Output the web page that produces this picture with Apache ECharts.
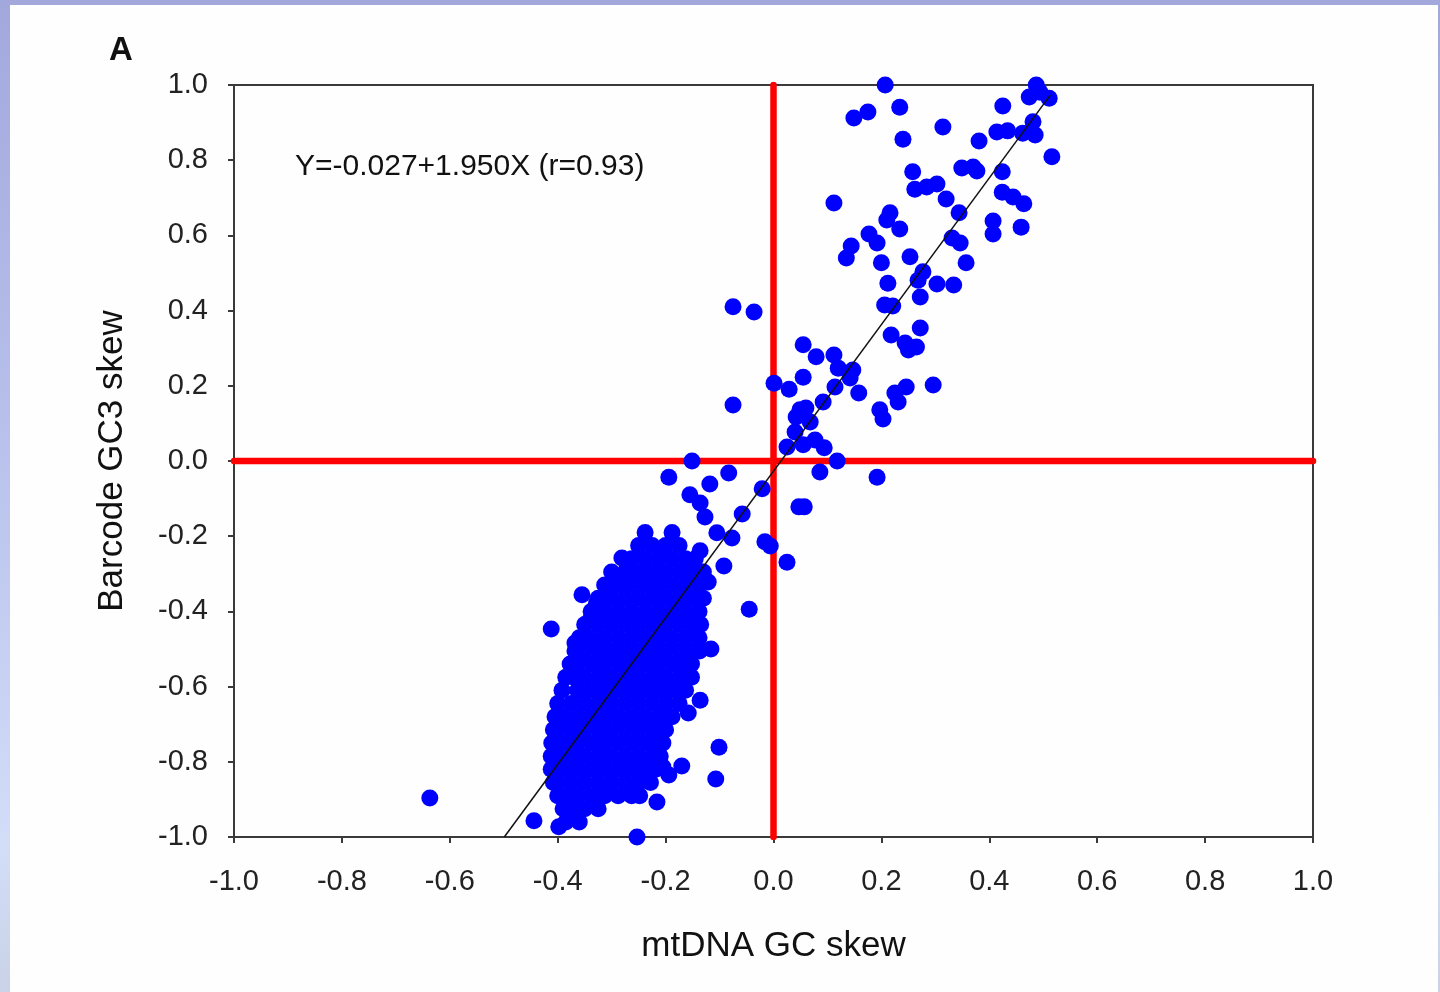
<!DOCTYPE html>
<html>
<head>
<meta charset="utf-8">
<script src="https://cdn.jsdelivr.net/npm/echarts@6/dist/echarts.min.js"></script>
<style>
  html, body { margin: 0; padding: 0; }
  body {
    width: 1440px; height: 992px; overflow: hidden; position: relative;
    background: linear-gradient(180deg, #a2a8dc 0%, #b8c2ec 45%, #d2ddf8 85%, #c9d2e6 100%);
  }
  #paper { position: absolute; left: 10px; top: 5px; width: 1428px; height: 987px; background: #fefefe; }
  #chart { position: absolute; left: 0; top: 0; width: 1440px; height: 992px; }
</style>
</head>
<body>
<div id="paper"></div>
<div id="chart"></div>
<script>
// scattered points outside the dense cluster [mtDNA GC skew, barcode GC3 skew]
var outerPoints = [
  [0.207, 1.0], [0.487, 1.0], [0.494, 0.981], [0.149, 0.912], [0.175, 0.928], [0.234, 0.941],
  [0.240, 0.856], [0.314, 0.888], [0.425, 0.944], [0.474, 0.968], [0.511, 0.965], [0.481, 0.902],
  [0.485, 0.867], [0.462, 0.872], [0.434, 0.878], [0.414, 0.875], [0.381, 0.851], [0.516, 0.809],
  [0.349, 0.779], [0.370, 0.782], [0.377, 0.771], [0.424, 0.769], [0.258, 0.769], [0.262, 0.723],
  [0.284, 0.729], [0.303, 0.737], [0.320, 0.697], [0.424, 0.715], [0.444, 0.702], [0.464, 0.684],
  [0.112, 0.686], [0.216, 0.660], [0.210, 0.641], [0.234, 0.617], [0.344, 0.660], [0.407, 0.638],
  [0.407, 0.604], [0.459, 0.622], [0.177, 0.604], [0.192, 0.580], [0.144, 0.572], [0.135, 0.540],
  [0.200, 0.527], [0.253, 0.543], [0.331, 0.593], [0.346, 0.580], [0.357, 0.527], [0.277, 0.503],
  [0.212, 0.473], [0.268, 0.481], [0.303, 0.471], [0.334, 0.468], [0.272, 0.436], [0.206, 0.415],
  [0.221, 0.412], [0.218, 0.335], [0.272, 0.354], [0.244, 0.314], [0.250, 0.295], [0.265, 0.303],
  [0.296, 0.202], [0.225, 0.181], [0.246, 0.197], [0.231, 0.157], [0.197, 0.136], [0.203, 0.112],
  [0.092, 0.157], [0.158, 0.181], [0.147, 0.242], [0.142, 0.221], [0.114, 0.197], [0.120, 0.247],
  [0.112, 0.282], [0.055, 0.309], [0.079, 0.277], [0.055, 0.223], [0.001, 0.207], [0.029, 0.191],
  [0.049, 0.136], [0.060, 0.141], [0.042, 0.117], [0.068, 0.104], [0.040, 0.077], [0.025, 0.037],
  [0.055, 0.043], [0.077, 0.056], [0.094, 0.035], [0.118, 0.0], [0.086, -0.029], [0.192, -0.043],
  [0.057, -0.122], [0.047, -0.122], [-0.016, -0.215], [-0.006, -0.226], [0.025, -0.269],
  [-0.021, -0.074], [-0.058, -0.141], [-0.075, 0.149], [-0.075, 0.410], [-0.036, 0.396],
  [-0.151, 0.0], [-0.083, -0.032], [-0.118, -0.061], [-0.194, -0.043], [-0.155, -0.090],
  [-0.136, -0.112], [-0.127, -0.149], [-0.105, -0.191], [-0.077, -0.205], [-0.045, -0.394],
  [-0.092, -0.279], [-0.136, -0.239],
  [-0.637, -0.896], [-0.412, -0.447], [-0.355, -0.356], [-0.281, -0.258], [-0.444, -0.957],
  [-0.398, -0.973], [-0.372, -0.936], [-0.253, -1.0], [-0.314, -0.888], [-0.216, -0.907],
  [-0.107, -0.846], [-0.101, -0.761], [-0.116, -0.5], [-0.136, -0.636], [-0.158, -0.670],
  [-0.170, -0.811], [-0.194, -0.835], [-0.261, -0.875], [-0.205, -0.814], [-0.257, -0.870],
  [-0.328, -0.378], [-0.340, -0.423], [-0.368, -0.484], [-0.302, -0.330], [-0.289, -0.322],
  [-0.260, -0.311], [-0.121, -0.322], [-0.130, -0.295]
];

// dense cluster, read row by row: [barcode GC3 skew, mtDNA GC skew values in that row]
var clusterRows = [
  [-0.19,  [-0.238, -0.188]],
  [-0.225, [-0.25, -0.225, -0.2, -0.175]],
  [-0.26,  [-0.263, -0.238, -0.213, -0.188, -0.163, -0.145]],
  [-0.295, [-0.3, -0.275, -0.25, -0.225, -0.2, -0.175, -0.15, -0.135]],
  [-0.33,  [-0.313, -0.288, -0.263, -0.238, -0.213, -0.188, -0.163, -0.138]],
  [-0.365, [-0.325, -0.3, -0.275, -0.25, -0.225, -0.2, -0.175, -0.15, -0.13]],
  [-0.40,  [-0.338, -0.313, -0.288, -0.263, -0.238, -0.213, -0.188, -0.163, -0.138]],
  [-0.435, [-0.35, -0.325, -0.3, -0.275, -0.25, -0.225, -0.2, -0.175, -0.15, -0.135]],
  [-0.47,  [-0.36, -0.338, -0.313, -0.288, -0.263, -0.238, -0.213, -0.188, -0.163, -0.138]],
  [-0.505, [-0.368, -0.35, -0.325, -0.3, -0.275, -0.25, -0.225, -0.2, -0.175, -0.15, -0.137]],
  [-0.54,  [-0.377, -0.363, -0.338, -0.313, -0.288, -0.263, -0.238, -0.213, -0.188, -0.163, -0.152]],
  [-0.575, [-0.385, -0.37, -0.35, -0.325, -0.3, -0.275, -0.25, -0.225, -0.2, -0.175, -0.152]],
  [-0.61,  [-0.392, -0.363, -0.338, -0.313, -0.288, -0.263, -0.238, -0.213, -0.188, -0.163]],
  [-0.645, [-0.4, -0.375, -0.35, -0.325, -0.3, -0.275, -0.25, -0.225, -0.2, -0.175]],
  [-0.68,  [-0.405, -0.388, -0.363, -0.338, -0.313, -0.288, -0.263, -0.238, -0.213, -0.188]],
  [-0.715, [-0.408, -0.4, -0.375, -0.35, -0.325, -0.3, -0.275, -0.25, -0.225, -0.2]],
  [-0.75,  [-0.411, -0.388, -0.363, -0.338, -0.313, -0.288, -0.263, -0.238, -0.213, -0.205]],
  [-0.785, [-0.412, -0.4, -0.375, -0.35, -0.325, -0.3, -0.275, -0.25, -0.225, -0.21]],
  [-0.82,  [-0.412, -0.388, -0.363, -0.338, -0.313, -0.288, -0.263, -0.238, -0.218]],
  [-0.855, [-0.408, -0.4, -0.375, -0.35, -0.325, -0.3, -0.275, -0.25, -0.228]],
  [-0.89,  [-0.4, -0.388, -0.363, -0.338, -0.313, -0.288, -0.263, -0.248]],
  [-0.925, [-0.39, -0.375, -0.35, -0.325]],
  [-0.96,  [-0.385, -0.36]]
];

// regression Y = -0.027 + 1.950X, drawn between its end points
var fitLine = [[-0.499, -1.0], [0.513, 0.973]];
var zeroVertical = [[0, -1], [0, 1]];
var zeroHorizontal = [[-1, 0], [1, 0]];

var points = outerPoints.slice();
clusterRows.forEach(function (row) {
  row[1].forEach(function (x) { points.push([x, row[0]]); });
});

var chart = echarts.init(document.getElementById('chart'));
var font = '"Liberation Sans", Arial, sans-serif';

var option = {
  backgroundColor: 'transparent',
  animation: false,
  grid: {
    left: 234, top: 85, width: 1079, height: 752,
    show: true, borderColor: '#3a3a3a', borderWidth: 2
  },
  xAxis: {
    type: 'value', min: -1, max: 1, interval: 0.2,
    name: 'mtDNA GC skew', nameLocation: 'middle', nameGap: 92,
    nameTextStyle: { fontFamily: font, fontSize: 35, color: '#111' },
    axisLine: { show: true, onZero: false, lineStyle: { color: '#3a3a3a', width: 2 } },
    axisTick: { show: true, length: 6, lineStyle: { color: '#3a3a3a', width: 2 } },
    axisLabel: {
      margin: 30, fontFamily: font, fontSize: 29, color: '#222',
      formatter: function (v) { return v.toFixed(1); }
    },
    splitLine: { show: false }
  },
  yAxis: {
    type: 'value', min: -1, max: 1, interval: 0.2,
    name: 'Barcode GC3 skew', nameLocation: 'middle', nameGap: 104,
    nameTextStyle: { fontFamily: font, fontSize: 35, color: '#111' },
    axisLine: { show: true, onZero: false, lineStyle: { color: '#3a3a3a', width: 2 } },
    axisTick: { show: true, length: 6, lineStyle: { color: '#3a3a3a', width: 2 } },
    axisLabel: {
      margin: 26, fontFamily: font, fontSize: 29, color: '#222',
      formatter: function (v) { return v.toFixed(1); }
    },
    splitLine: { show: false }
  },
  graphic: [
    {
      type: 'text', x: 121, y: 51,
      style: { text: 'A', font: 'bold 33px ' + font, fill: '#111', align: 'center', verticalAlign: 'middle' }
    },
    {
      type: 'text', x: 295, y: 167,
      style: { text: 'Y=-0.027+1.950X (r=0.93)', font: '30px ' + font, fill: '#111', verticalAlign: 'middle' }
    }
  ],
  series: [
    {
      type: 'line', data: zeroVertical, symbol: 'none', z: 1, silent: true,
      lineStyle: { color: '#ff0000', width: 6.5, cap: 'round' }
    },
    {
      type: 'line', data: zeroHorizontal, symbol: 'none', z: 1, silent: true,
      lineStyle: { color: '#ff0000', width: 6.5, cap: 'round' }
    },
    {
      type: 'scatter', data: points, symbol: 'circle', symbolSize: 17, z: 2,
      itemStyle: { color: '#0000ff', opacity: 1 }
    },
    {
      type: 'line', data: fitLine, symbol: 'none', z: 3, silent: true,
      lineStyle: { color: '#111', width: 1.5 }
    }
  ]
};

chart.setOption(option);
</script>
</body>
</html>
